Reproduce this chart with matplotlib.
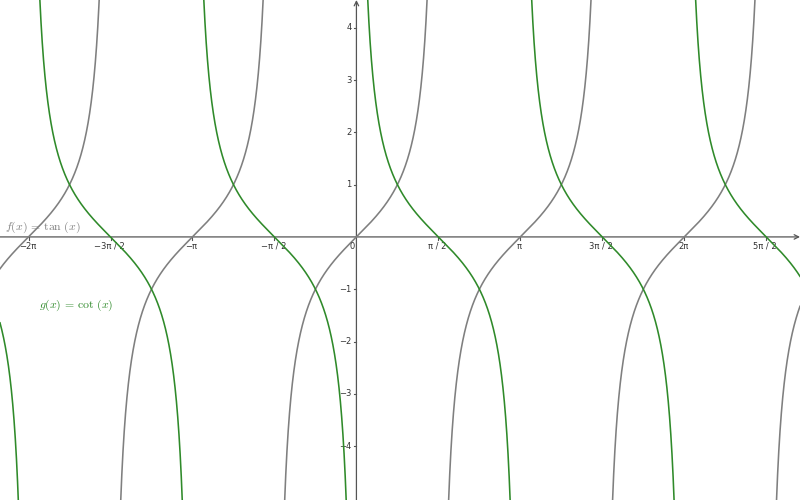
import numpy as np
import matplotlib
matplotlib.use("Agg")
import matplotlib.pyplot as plt
from matplotlib import transforms

# ---- data ----
x_tick_values = [-2*np.pi, -1.5*np.pi, -np.pi, -0.5*np.pi, 0.5*np.pi, np.pi, 1.5*np.pi, 2*np.pi, 2.5*np.pi]
x_tick_labels = ["\u22122\u03c0", "\u22123\u03c0 / 2", "\u2212\u03c0", "\u2212\u03c0 / 2", "\u03c0 / 2", "\u03c0", "3\u03c0 / 2", "2\u03c0", "5\u03c0 / 2"]
y_tick_values = [-4, -3, -2, -1, 1, 2, 3, 4]
y_tick_labels = ["\u22124", "\u22123", "\u22122", "\u22121", "1", "2", "3", "4"]
x_range = (-6.83, 8.50)
y_range = (-5.03, 4.53)
f_label = r"$f(x)\,=\,\tan\,(x)$"
g_label = r"$g(x)\,=\,\cot\,(x)$"

plt.rcParams['mathtext.fontset'] = 'cm'

GRAY = '#7f7f7f'
GREEN = '#2f8a2a'
AXIS = '#555555'

fig = plt.figure(figsize=(8, 5), dpi=100)
ax = fig.add_axes([0, 0, 1, 1])
ax.set_xlim(*x_range)
ax.set_ylim(*y_range)
ax.axis('off')

x = np.linspace(x_range[0], x_range[1], 40000)
tan_raw = np.tan(x)
cot_raw = 1 / np.tan(x)
tan_y = tan_raw.copy()
cot_y = cot_raw.copy()
tan_y[np.abs(tan_y) > 50] = np.nan
cot_y[np.abs(cot_y) > 50] = np.nan
tan_y[1:][np.abs(np.diff(tan_raw)) > 5] = np.nan
cot_y[1:][np.abs(np.diff(cot_raw)) > 5] = np.nan

ax.plot(x, tan_y, color=GRAY, lw=1.15, zorder=3)
ax.plot(x, cot_y, color=GREEN, lw=1.15, zorder=4)

# axes with arrows
ax.annotate('', xy=(x_range[1], 0), xytext=(x_range[0], 0),
            arrowprops=dict(arrowstyle='->', color=AXIS, lw=0.9, shrinkA=0, shrinkB=0,
                            mutation_scale=8), zorder=2)
ax.annotate('', xy=(0, y_range[1]), xytext=(0, y_range[0]),
            arrowprops=dict(arrowstyle='->', color=AXIS, lw=0.9, shrinkA=0, shrinkB=0,
                            mutation_scale=8), zorder=2)

# ticks
off_down = transforms.offset_copy(ax.transData, fig=fig, x=-1, y=-5, units='dots')
for v, lab in zip(x_tick_values, x_tick_labels):
    ax.plot([v, v], [0, -0.05], color=AXIS, lw=0.8)
    ax.text(v, 0, lab, transform=off_down, ha='center', va='top', fontsize=6, color='#333333')
ax.text(0, 0, "0", transform=transforms.offset_copy(ax.transData, fig=fig, x=-2, y=-5, units='dots'),
        ha='right', va='top', fontsize=6, color='#333333')
off_left = transforms.offset_copy(ax.transData, fig=fig, x=-5, y=0, units='dots')
for v, lab in zip(y_tick_values, y_tick_labels):
    ax.plot([-0.05, 0], [v, v], color=AXIS, lw=0.8)
    ax.text(0, v, lab, transform=off_left, ha='right', va='center', fontsize=6, color='#333333')

ax.text(-6.74, 0.13, f_label, color=GRAY, fontsize=8.5, ha='left', va='baseline', zorder=1)
ax.text(-6.08, -1.36, g_label, color=GREEN, fontsize=8.5, ha='left', va='baseline', zorder=5)

fig.savefig('out.png', dpi=100)
